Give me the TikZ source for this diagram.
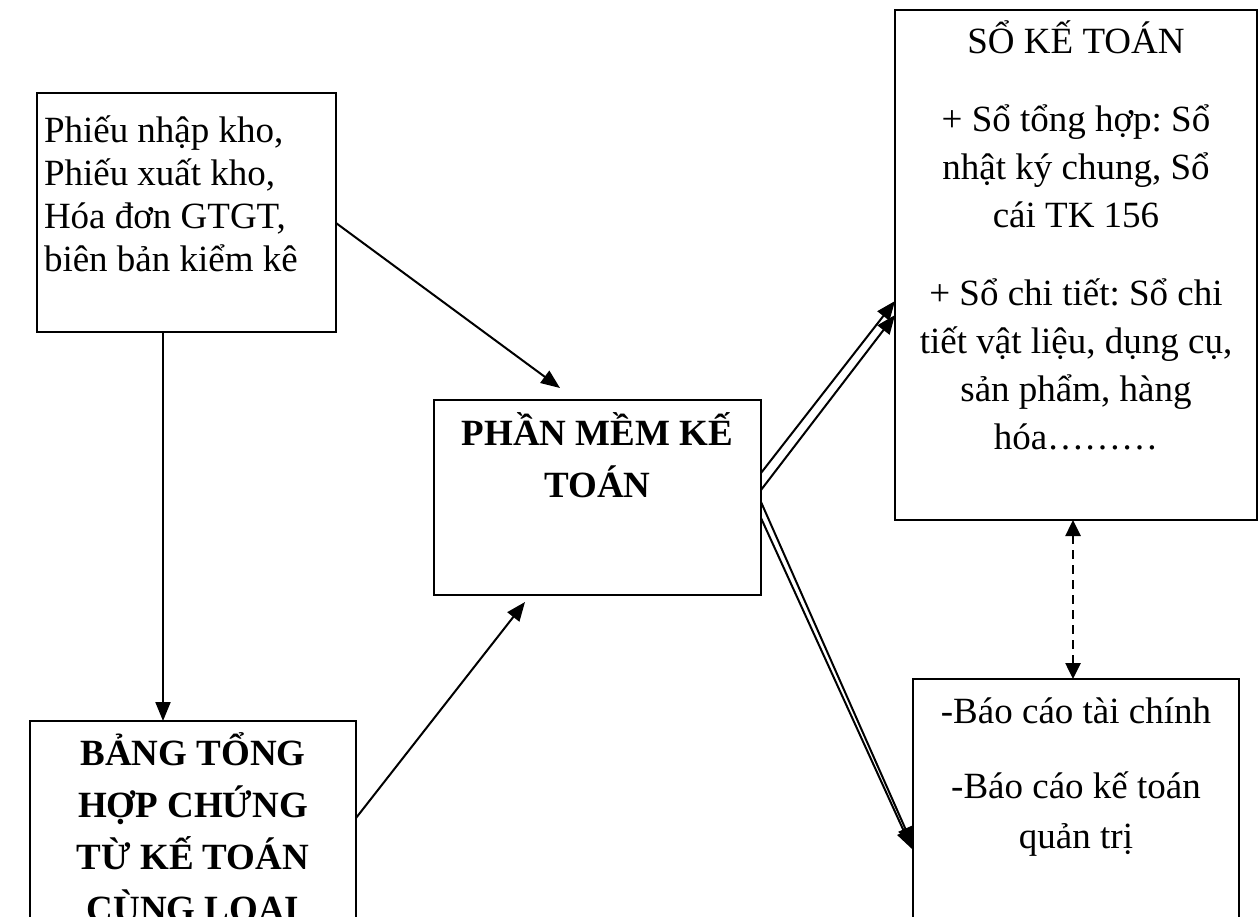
\documentclass[tikz,border=0pt]{standalone}
\usepackage{fontspec}
\setmainfont{Liberation Serif}
\usetikzlibrary{arrows.meta,calc}
\frenchspacing
\begin{document}
\begin{tikzpicture}[x=1pt,y=-1pt,
  box/.style={draw, line width=2pt, inner sep=0pt, outer sep=0pt, anchor=north west},
  flow/.style={line width=2pt, -{Triangle[length=19pt,width=15pt]}},
  twoway/.style={line width=2.6pt, dash pattern=on 9pt off 6pt,
    {Triangle[length=16pt,width=15pt]}-{Triangle[length=16pt,width=15pt]}},
]
\useasboundingbox (0,0) rectangle (1260,916);
\clip (0,0) rectangle (1260,916);
\fill[white] (0,0) rectangle (1260,916);

% source documents
\node[box] (chungtu) at (37,93) {\parbox[c][239pt][t]{299pt}{%
  \fontsize{37}{43.3}\selectfont\lineskiplimit=-100pt\raggedright\leftskip=7pt
  \vspace*{11pt}\rule{0pt}{38pt}Phiếu nhập kho,\\Phiếu xuất kho,\\Hóa đơn GTGT,\\biên bản kiểm kê}};

% summary of vouchers
\node[box] (bangth) at (30,721) {\parbox[c][260pt][t]{326pt}{%
  \fontsize{37}{52}\selectfont\bfseries\lineskiplimit=-100pt\centering
  \vspace*{6pt}\rule{0pt}{38pt}BẢNG TỔNG\\HỢP CHỨNG\\TỪ KẾ TOÁN\\CÙNG LOẠI}};

% accounting software
\node[box] (pmkt) at (434,400) {\parbox[c][195pt][t]{327pt}{%
  \fontsize{37}{52}\selectfont\bfseries\lineskiplimit=-100pt\centering
  \vspace*{7pt}\rule{0pt}{38pt}PHẦN MỀM KẾ\\TOÁN}};

% accounting books
\node[box] (sokt) at (895,10) {\parbox[c][510pt][t]{362pt}{%
  \fontsize{37}{48}\selectfont\lineskiplimit=-100pt\centering
  \vspace*{5pt}\rule{0pt}{38pt}SỔ KẾ TOÁN\\[30pt]+ Sổ tổng hợp: Sổ\\nhật ký chung, Sổ\\cái TK 156\\[30pt]%
  + Sổ chi tiết: Sổ chi\\tiết vật liệu, dụng cụ,\\sản phẩm, hàng\\hóa………}};

% reports
\node[box] (baocao) at (913,679) {\parbox[c][260pt][t]{326pt}{%
  \fontsize{37}{50}\selectfont\lineskiplimit=-100pt\centering
  \vspace*{6pt}\rule{0pt}{38pt}-Báo cáo tài chính\\[25pt]-Báo cáo kế toán\\quản trị}};

% connectors
\draw[flow] ($(chungtu.north east)+(0,130)$) -- ($(pmkt.north west)+(126,-12)$);
\draw[flow] ($(chungtu.south west)+(126,0)$) -- ($(bangth.north west)+(133,0)$);
\draw[flow] ($(bangth.north east)+(0,97)$) -- ($(pmkt.south west)+(91,7)$);
\draw[flow] ($(pmkt.north east)+(0,73)$) -- ($(sokt.north west)+(0,291)$);
\draw[flow] ($(pmkt.north east)+(0,90)$) -- ($(sokt.north west)+(0,305)$);
\draw[flow] ($(pmkt.north east)+(0,102)$) -- ($(baocao.north west)+(0,167)$);
\draw[flow] ($(pmkt.north east)+(0,118)$) -- ($(baocao.north west)+(-1,170)$);
\draw[twoway] ($(sokt.south west)+(178,0)$) -- ($(baocao.north west)+(160,0)$);
\end{tikzpicture}
\end{document}
